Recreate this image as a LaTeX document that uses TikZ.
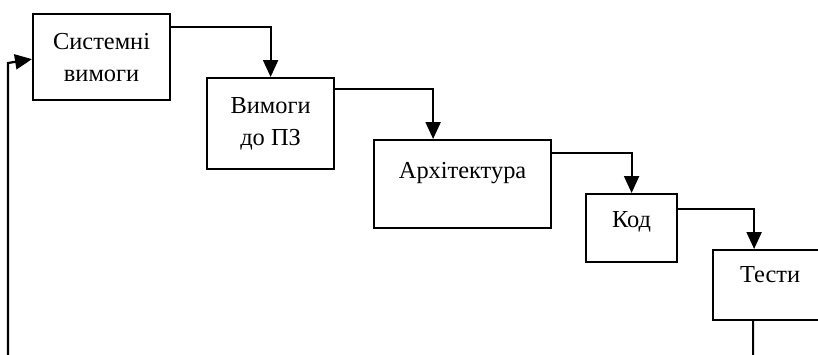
\documentclass[tikz,border=0pt]{standalone}
\usepackage{fontspec}
\setmainfont{Liberation Serif}
\usetikzlibrary{arrows.meta}
\tikzset{
  box/.style={draw,line width=1.1pt,inner sep=0,anchor=north west,align=center,font=\fontsize{12.2}{16}\selectfont},
  txt/.style={inner sep=0,anchor=base,font=\fontsize{12.2}{16}\selectfont},
  arr/.style={line width=1.1pt,-{Triangle[length=8.5pt,width=7.5pt]}}
}
\begin{document}
\begin{tikzpicture}[x=0.5pt,y=-0.5pt]
\useasboundingbox (0,0) rectangle (818,354);
% stages
\node[box,minimum width=68.5pt,minimum height=43pt] (sys) at (32,13) {Системні\\вимоги};
\node[box,minimum width=63.5pt,minimum height=45.5pt] (req) at (206,77) {Вимоги\\до ПЗ};
\node[box,minimum width=88.5pt,minimum height=44pt] (arch) at (373,139) {};
\node[box,minimum width=45.5pt,minimum height=34pt] (code) at (585,193) {};
\node[box,minimum width=57pt,minimum height=35pt] (test) at (712,249) {};
\node[txt] (archt) at ([yshift=-19.5pt]arch.north) {Архітектура};
\node[txt] (codet) at ([yshift=-17pt]code.north) {Код};
\node[txt] (testt) at ([yshift=-16.5pt]test.north) {Тести};
% flow
\draw[arr] ([yshift=-7pt]sys.north east) -| (req.north);
\draw[arr] ([yshift=-6pt]req.north east) -| ([xshift=-14.75pt]arch.north);
\draw[arr] ([yshift=-7pt]arch.north east) -| (code.north);
\draw[arr] ([yshift=-8pt]code.north east) -| ([xshift=-8pt]test.north);
% back loop
\coordinate (lb) at (8,380);
\coordinate (lt) at (8,63);
\draw[arr] ([xshift=-8.5pt]test.south) |- (lb) -- (lt) -- ([yshift=-1pt]sys.west);
\end{tikzpicture}
\end{document}
